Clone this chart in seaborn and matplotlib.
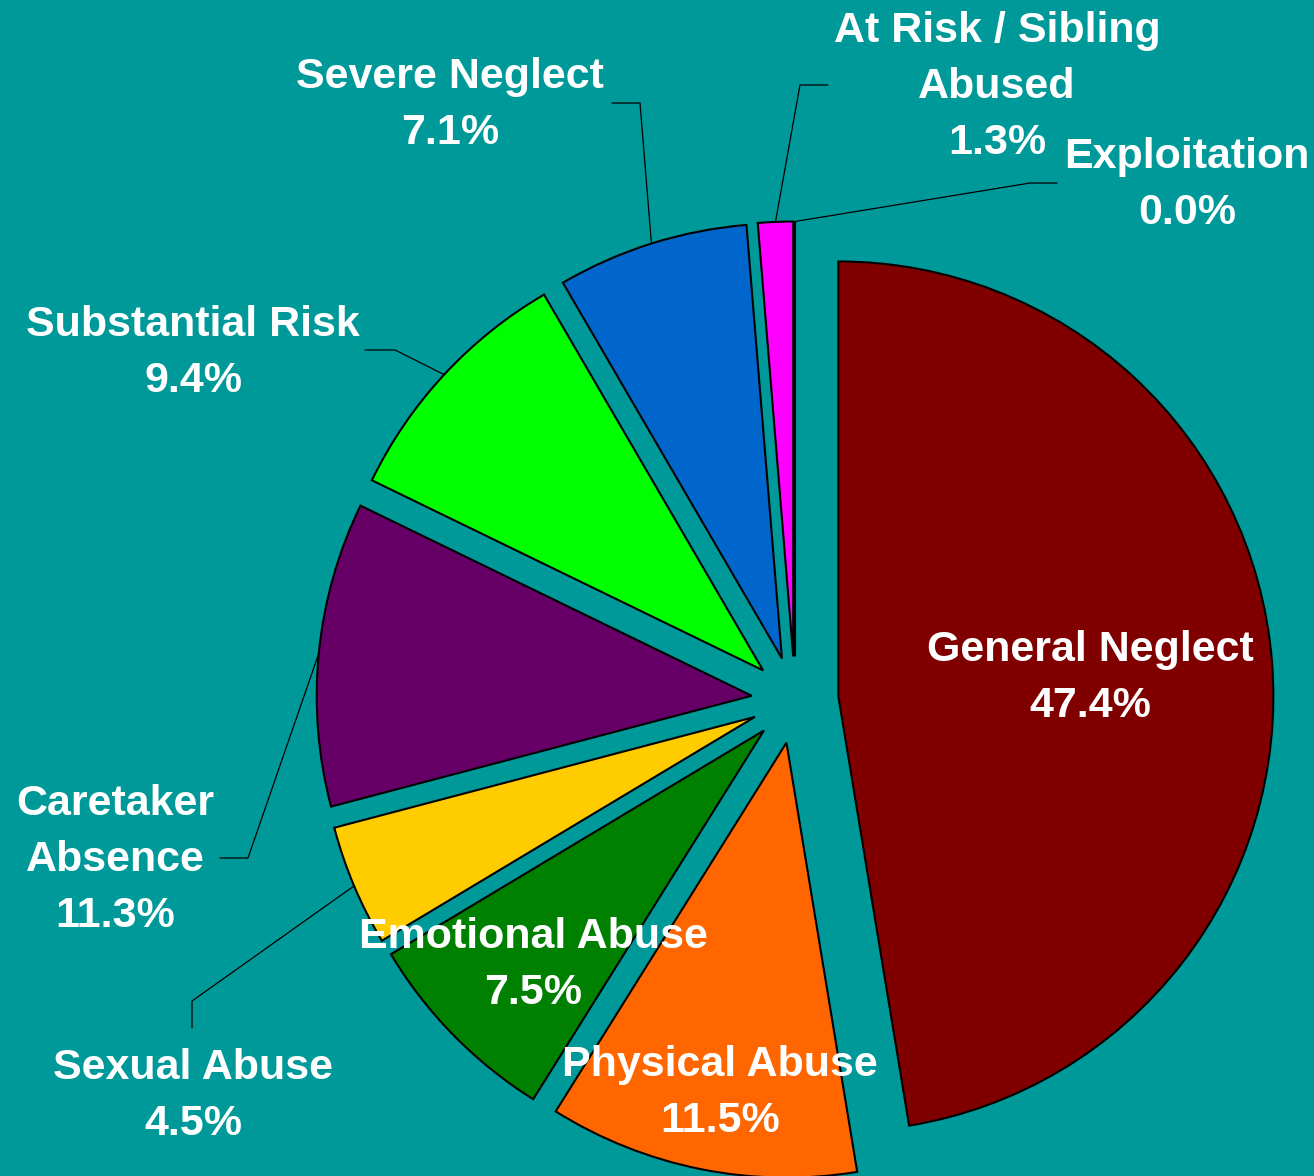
import numpy as np
import matplotlib
matplotlib.use("Agg")
import matplotlib.pyplot as plt
import seaborn as sns

# ---- data ----
categories = ["General Neglect", "Physical Abuse", "Emotional Abuse", "Sexual Abuse",
              "Caretaker\nAbsence", "Substantial Risk", "Severe Neglect",
              "At Risk / Sibling\nAbused", "Exploitation"]
values = [47.4, 11.5, 7.5, 4.5, 11.3, 9.4, 7.1, 1.3, 0.0]
colors = ["#800000", "#FF6600", "#008000", "#FFCC00", "#660066",
          "#00FF00", "#0066CC", "#FF00FF", "#00FFFF"]

sns.set_theme(style="white")
plt.rcParams['font.family'] = ['Liberation Sans', 'DejaVu Sans']

BG = "#009999"
W, H = 1314, 1176
CX, CY, R = 795, 700, 435  # pixel layout of pie

fig = plt.figure(figsize=(W / 100, H / 100), dpi=100, facecolor=BG)
ax = fig.add_axes([0, 0, 1, 1])
ax.set_facecolor(BG)

wedges, _ = ax.pie(values, colors=sns.color_palette(colors), startangle=90,
                   counterclock=False, explode=[0.1] * len(values),
                   normalize=True,
                   wedgeprops=dict(edgecolor="black", linewidth=1.5))
ax.set_xlim(-CX / R, (W - CX) / R)
ax.set_ylim(-(H - CY) / R, CY / R)
ax.axis("off")


def p2d(px, py):
    return ((px - CX) / R, (CY - py) / R)


# label layout: text centre (px) and leader elbow / end points (px)
layout = [
    ((1090, 678), None),
    ((720, 1093), None),
    ((533, 965), None),
    ((193, 1096), [(192, 1001), (192, 1028)]),
    ((115, 860), [(248, 858), (220, 858)]),
    ((193, 353), [(395, 350), (365, 350)]),
    ((450, 105), [(640, 103), (612, 103)]),
    ((997, 87), [(800, 85), (828, 85)]),
    ((1187, 185), [(1030, 183), (1057, 183)]),
]

for w, cat, val, (tpos, lead) in zip(wedges, categories, values, layout):
    if lead is not None:
        mid = np.deg2rad((w.theta1 + w.theta2) / 2)
        ax0 = w.center[0] + w.r * np.cos(mid)
        ay0 = w.center[1] + w.r * np.sin(mid)
        pts = [(ax0, ay0)] + [p2d(*p) for p in lead]
        xs, ys = zip(*pts)
        ax.plot(xs, ys, color="black", lw=0.9, zorder=2)
    tx, ty = p2d(*tpos)
    ax.text(tx, ty, f"{cat}\n{val:.1f}%", ha="center", va="center",
            color="white", fontsize=31, fontweight="bold", linespacing=1.52,
            zorder=5)

fig.savefig("out.png", dpi=100, facecolor=BG)
